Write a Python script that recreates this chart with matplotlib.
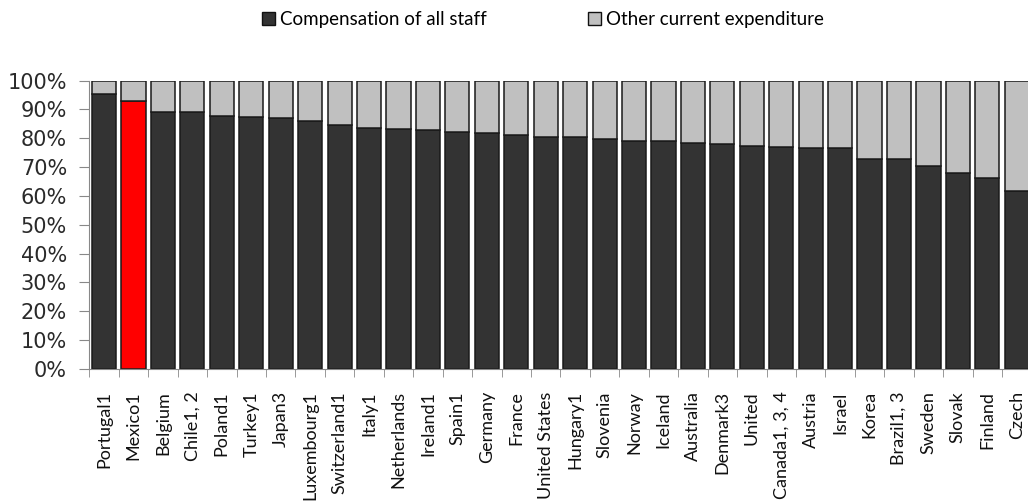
import numpy as np
import matplotlib.pyplot as plt
from matplotlib.patches import Patch

countries = ['Portugal1', 'Mexico1', 'Belgium', 'Chile1, 2', 'Poland1', 'Turkey1', 'Japan3',
             'Luxembourg1', 'Switzerland1', 'Italy1', 'Netherlands', 'Ireland1', 'Spain1',
             'Germany', 'France', 'United States', 'Hungary1', 'Slovenia', 'Norway', 'Iceland',
             'Australia', 'Denmark3', 'United', 'Canada1, 3, 4', 'Austria', 'Israel', 'Korea',
             'Brazil1, 3', 'Sweden', 'Slovak', 'Finland', 'Czech']
# share of current expenditure (%)
staff = [95.4, 92.8, 89.1, 89.0, 87.8, 87.3, 87.2, 86.0, 84.7, 83.4, 83.3, 82.9, 82.3,
         81.7, 81.0, 80.4, 80.3, 79.8, 79.2, 79.2, 78.5, 77.9, 77.2, 77.1, 76.6, 76.6, 72.9,
         72.8, 70.4, 67.8, 66.2, 61.7]
other = [100 - s for s in staff]
highlight = 'Mexico1'

dark = '#333333'
light = '#c0c0c0'
red = '#ff0000'

fig = plt.figure(figsize=(10.28, 5.04), dpi=100)
ax = fig.add_axes([0.0869, 0.268, 0.9165, 0.572])

x = np.arange(len(countries))
cols = [red if c == highlight else dark for c in countries]
ax.bar(x, staff, width=0.82, color=cols, edgecolor='#1a1a1a', linewidth=1.1)
ax.bar(x, other, bottom=staff, width=0.82, color=light, edgecolor='#1a1a1a', linewidth=1.1)

ax.set_xlim(-0.5, len(countries) - 0.5)
ax.set_ylim(0, 100)
ax.set_yticks(np.arange(0, 101, 10))
ax.set_yticklabels([f'{v}%' for v in range(0, 101, 10)], fontsize=15,
                   family='DejaVu Sans', color='#2a2a2a')
ax.set_xticks(x)
ax.set_xticklabels(countries, rotation=90, fontsize=13, family='Lato', color='#111111',
                   va='top')
ax.set_xticks(np.arange(-0.5, len(countries), 1), minor=True)
ax.tick_params(axis='x', which='major', length=0, pad=16)
ax.tick_params(axis='x', which='minor', length=6, color='#888888')
ax.tick_params(axis='y', length=7, color='#888888', pad=9)

for s in ['top', 'right']:
    ax.spines[s].set_visible(False)
ax.spines['left'].set_color('#888888')
ax.spines['bottom'].set_color('#888888')

# two legend entries placed separately, like the original layout
leg_items = [(dark, 'Compensation of all staff', 262), (light, 'Other current expenditure', 588)]
for fc, lab, px in leg_items:
    fig.legend(handles=[Patch(facecolor=fc, edgecolor='#111111', label=lab)],
               loc='center left', bbox_to_anchor=(px / 1028, 0.962), frameon=False,
               borderpad=0, borderaxespad=0,
               prop={'family': 'Lato', 'size': 13.5}, handlelength=0.7, handleheight=0.7,
               handletextpad=0.25)

fig.savefig('out.png', dpi=100)
